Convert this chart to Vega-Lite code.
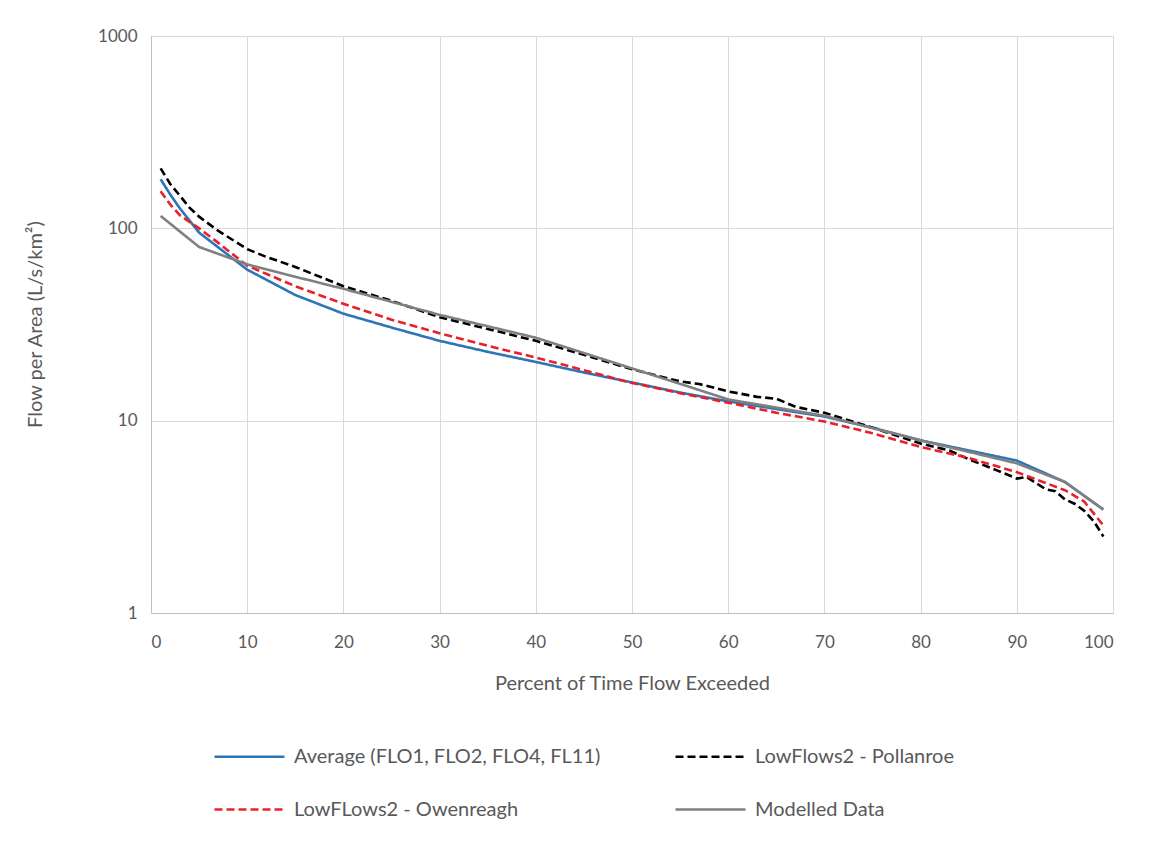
{
  "$schema": "https://vega.github.io/schema/vega-lite/v6.json",
  "width": 962,
  "height": 577,
  "autosize": {"type": "none"},
  "padding": {"left": 151, "top": 36, "right": 50, "bottom": 246},
  "background": "white",
  "config": {
    "font": "Lato",
    "view": {"stroke": null},
    "axis": {
      "labelFont": "Lato",
      "titleFont": "Lato",
      "labelColor": "#595959",
      "titleColor": "#595959",
      "labelFontSize": 17,
      "titleFontSize": 20,
      "titleFontWeight": "normal",
      "gridColor": "#D9D9D9",
      "gridWidth": 1,
      "domainColor": "#BFBFBF",
      "ticks": false
    },
    "legend": {
      "labelFont": "Lato",
      "labelFontSize": 20,
      "labelColor": "#595959",
      "labelLimit": 600
    }
  },
  "data": {
    "values": [
      {"s": "Average (FLO1, FLO2, FLO4, FL11)", "x": 1, "y": 180},
      {"s": "Average (FLO1, FLO2, FLO4, FL11)", "x": 2, "y": 150},
      {"s": "Average (FLO1, FLO2, FLO4, FL11)", "x": 3, "y": 127},
      {"s": "Average (FLO1, FLO2, FLO4, FL11)", "x": 5, "y": 95},
      {"s": "Average (FLO1, FLO2, FLO4, FL11)", "x": 10, "y": 61},
      {"s": "Average (FLO1, FLO2, FLO4, FL11)", "x": 15, "y": 45},
      {"s": "Average (FLO1, FLO2, FLO4, FL11)", "x": 20, "y": 36},
      {"s": "Average (FLO1, FLO2, FLO4, FL11)", "x": 25, "y": 30.5},
      {"s": "Average (FLO1, FLO2, FLO4, FL11)", "x": 30, "y": 26},
      {"s": "Average (FLO1, FLO2, FLO4, FL11)", "x": 35, "y": 22.8},
      {"s": "Average (FLO1, FLO2, FLO4, FL11)", "x": 40, "y": 20.2},
      {"s": "Average (FLO1, FLO2, FLO4, FL11)", "x": 45, "y": 17.8},
      {"s": "Average (FLO1, FLO2, FLO4, FL11)", "x": 50, "y": 15.8},
      {"s": "Average (FLO1, FLO2, FLO4, FL11)", "x": 55, "y": 14},
      {"s": "Average (FLO1, FLO2, FLO4, FL11)", "x": 60, "y": 12.6},
      {"s": "Average (FLO1, FLO2, FLO4, FL11)", "x": 65, "y": 11.5},
      {"s": "Average (FLO1, FLO2, FLO4, FL11)", "x": 70, "y": 10.5},
      {"s": "Average (FLO1, FLO2, FLO4, FL11)", "x": 75, "y": 9.2},
      {"s": "Average (FLO1, FLO2, FLO4, FL11)", "x": 80, "y": 7.9},
      {"s": "Average (FLO1, FLO2, FLO4, FL11)", "x": 85, "y": 7},
      {"s": "Average (FLO1, FLO2, FLO4, FL11)", "x": 90, "y": 6.2},
      {"s": "Average (FLO1, FLO2, FLO4, FL11)", "x": 95, "y": 4.8},
      {"s": "Average (FLO1, FLO2, FLO4, FL11)", "x": 99, "y": 3.45},

      {"s": "LowFlows2 - Pollanroe", "x": 1, "y": 205},
      {"s": "LowFlows2 - Pollanroe", "x": 2, "y": 170},
      {"s": "LowFlows2 - Pollanroe", "x": 3, "y": 148},
      {"s": "LowFlows2 - Pollanroe", "x": 4, "y": 128},
      {"s": "LowFlows2 - Pollanroe", "x": 5, "y": 115},
      {"s": "LowFlows2 - Pollanroe", "x": 7, "y": 97},
      {"s": "LowFlows2 - Pollanroe", "x": 10, "y": 78},
      {"s": "LowFlows2 - Pollanroe", "x": 12, "y": 71},
      {"s": "LowFlows2 - Pollanroe", "x": 15, "y": 63},
      {"s": "LowFlows2 - Pollanroe", "x": 20, "y": 50},
      {"s": "LowFlows2 - Pollanroe", "x": 25, "y": 42},
      {"s": "LowFlows2 - Pollanroe", "x": 30, "y": 34.5},
      {"s": "LowFlows2 - Pollanroe", "x": 35, "y": 30},
      {"s": "LowFlows2 - Pollanroe", "x": 40, "y": 26},
      {"s": "LowFlows2 - Pollanroe", "x": 45, "y": 22},
      {"s": "LowFlows2 - Pollanroe", "x": 50, "y": 18.5},
      {"s": "LowFlows2 - Pollanroe", "x": 55, "y": 16},
      {"s": "LowFlows2 - Pollanroe", "x": 57, "y": 15.5},
      {"s": "LowFlows2 - Pollanroe", "x": 60, "y": 14.2},
      {"s": "LowFlows2 - Pollanroe", "x": 63, "y": 13.3},
      {"s": "LowFlows2 - Pollanroe", "x": 65, "y": 13},
      {"s": "LowFlows2 - Pollanroe", "x": 67, "y": 11.8},
      {"s": "LowFlows2 - Pollanroe", "x": 70, "y": 11},
      {"s": "LowFlows2 - Pollanroe", "x": 75, "y": 9.2},
      {"s": "LowFlows2 - Pollanroe", "x": 80, "y": 7.6},
      {"s": "LowFlows2 - Pollanroe", "x": 83, "y": 7},
      {"s": "LowFlows2 - Pollanroe", "x": 85, "y": 6.3},
      {"s": "LowFlows2 - Pollanroe", "x": 88, "y": 5.5},
      {"s": "LowFlows2 - Pollanroe", "x": 90, "y": 5.0},
      {"s": "LowFlows2 - Pollanroe", "x": 91, "y": 5.1},
      {"s": "LowFlows2 - Pollanroe", "x": 93, "y": 4.4},
      {"s": "LowFlows2 - Pollanroe", "x": 94, "y": 4.3},
      {"s": "LowFlows2 - Pollanroe", "x": 95, "y": 3.9},
      {"s": "LowFlows2 - Pollanroe", "x": 96, "y": 3.7},
      {"s": "LowFlows2 - Pollanroe", "x": 97, "y": 3.4},
      {"s": "LowFlows2 - Pollanroe", "x": 98, "y": 3.0},
      {"s": "LowFlows2 - Pollanroe", "x": 99, "y": 2.5},

      {"s": "LowFLows2 - Owenreagh", "x": 1, "y": 156},
      {"s": "LowFLows2 - Owenreagh", "x": 2, "y": 133},
      {"s": "LowFLows2 - Owenreagh", "x": 3, "y": 117},
      {"s": "LowFLows2 - Owenreagh", "x": 5, "y": 100},
      {"s": "LowFLows2 - Owenreagh", "x": 7, "y": 84},
      {"s": "LowFLows2 - Owenreagh", "x": 10, "y": 64},
      {"s": "LowFLows2 - Owenreagh", "x": 15, "y": 50},
      {"s": "LowFLows2 - Owenreagh", "x": 20, "y": 40.5},
      {"s": "LowFLows2 - Owenreagh", "x": 25, "y": 33.5},
      {"s": "LowFLows2 - Owenreagh", "x": 30, "y": 28.5},
      {"s": "LowFLows2 - Owenreagh", "x": 35, "y": 24.5},
      {"s": "LowFLows2 - Owenreagh", "x": 40, "y": 21.3},
      {"s": "LowFLows2 - Owenreagh", "x": 45, "y": 18.3},
      {"s": "LowFLows2 - Owenreagh", "x": 50, "y": 15.7},
      {"s": "LowFLows2 - Owenreagh", "x": 55, "y": 13.9},
      {"s": "LowFLows2 - Owenreagh", "x": 60, "y": 12.4},
      {"s": "LowFLows2 - Owenreagh", "x": 65, "y": 11},
      {"s": "LowFLows2 - Owenreagh", "x": 70, "y": 9.9},
      {"s": "LowFLows2 - Owenreagh", "x": 75, "y": 8.6},
      {"s": "LowFLows2 - Owenreagh", "x": 80, "y": 7.3},
      {"s": "LowFLows2 - Owenreagh", "x": 85, "y": 6.4},
      {"s": "LowFLows2 - Owenreagh", "x": 90, "y": 5.4},
      {"s": "LowFLows2 - Owenreagh", "x": 95, "y": 4.35},
      {"s": "LowFLows2 - Owenreagh", "x": 97, "y": 3.8},
      {"s": "LowFLows2 - Owenreagh", "x": 99, "y": 2.85},

      {"s": "Modelled Data", "x": 1, "y": 116},
      {"s": "Modelled Data", "x": 5, "y": 80},
      {"s": "Modelled Data", "x": 10, "y": 65},
      {"s": "Modelled Data", "x": 15, "y": 56},
      {"s": "Modelled Data", "x": 20, "y": 48.5},
      {"s": "Modelled Data", "x": 30, "y": 35.5},
      {"s": "Modelled Data", "x": 40, "y": 27},
      {"s": "Modelled Data", "x": 50, "y": 18.7},
      {"s": "Modelled Data", "x": 60, "y": 12.9},
      {"s": "Modelled Data", "x": 70, "y": 10.6},
      {"s": "Modelled Data", "x": 80, "y": 7.9},
      {"s": "Modelled Data", "x": 90, "y": 6.0},
      {"s": "Modelled Data", "x": 95, "y": 4.8},
      {"s": "Modelled Data", "x": 99, "y": 3.45}
    ]
  },
  "mark": {"type": "line", "strokeWidth": 2.6, "clip": true},
  "encoding": {
    "x": {
      "field": "x",
      "type": "quantitative",
      "scale": {"domain": [0, 100], "nice": false},
      "axis": {
        "values": [0, 10, 20, 30, 40, 50, 60, 70, 80, 90, 100],
        "title": "Percent of Time Flow Exceeded",
        "labelPadding": 21,
        "titleY": 70,
        "titleBaseline": "middle",
        "grid": true
      }
    },
    "y": {
      "field": "y",
      "type": "quantitative",
      "scale": {"type": "log", "domain": [1, 1000], "nice": false},
      "axis": {
        "values": [1, 10, 100, 1000],
        "format": "d",
        "title": "Flow per Area (L/s/km²)",
        "labelPadding": 14,
        "titleX": -116,
        "titleY": 288,
        "titleAngle": 270,
        "titleAlign": "center",
        "titleBaseline": "middle",
        "grid": true
      }
    },
    "color": {
      "field": "s",
      "type": "nominal",
      "sort": ["Average (FLO1, FLO2, FLO4, FL11)", "LowFlows2 - Pollanroe", "LowFLows2 - Owenreagh", "Modelled Data"],
      "scale": {
        "domain": ["Average (FLO1, FLO2, FLO4, FL11)", "LowFlows2 - Pollanroe", "LowFLows2 - Owenreagh", "Modelled Data"],
        "range": ["#2E75B6", "#000000", "#E8202A", "#808080"]
      },
      "legend": {
        "title": null,
        "orient": "none",
        "direction": "horizontal",
        "legendX": 62,
        "legendY": 684,
        "columns": 2,
        "columnPadding": 69,
        "rowPadding": 6,
        "symbolType": "stroke",
        "symbolSize": 4900,
        "symbolStrokeWidth": 2.6,
        "labelOffset": 8
      }
    },
    "strokeDash": {
      "field": "s",
      "type": "nominal",
      "sort": ["Average (FLO1, FLO2, FLO4, FL11)", "LowFlows2 - Pollanroe", "LowFLows2 - Owenreagh", "Modelled Data"],
      "scale": {
        "domain": ["Average (FLO1, FLO2, FLO4, FL11)", "LowFlows2 - Pollanroe", "LowFLows2 - Owenreagh", "Modelled Data"],
        "range": [[1, 0], [8, 4], [8, 4], [1, 0]]
      },
      "legend": null
    }
  }
}
